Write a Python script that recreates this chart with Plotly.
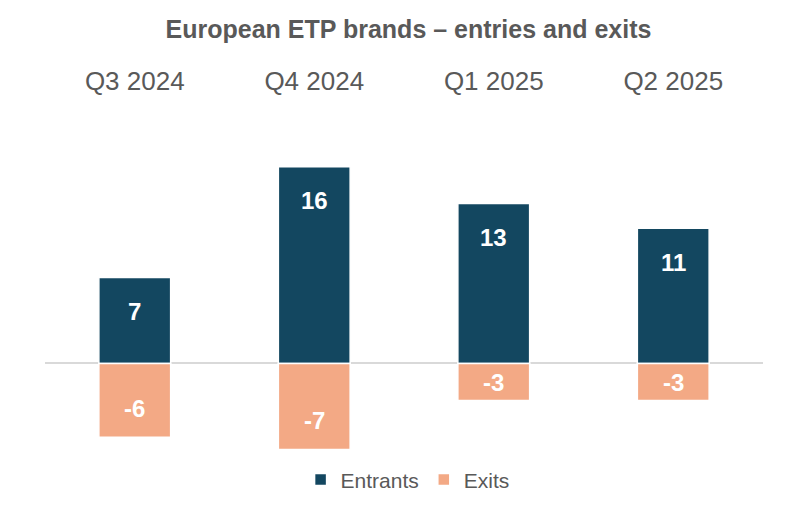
import plotly.graph_objects as go

categories = ["Q3 2024", "Q4 2024", "Q1 2025", "Q2 2025"]
entrants = [7, 16, 13, 11]
exits = [-6, -7, -3, -3]

DARK = "#134760"
SALMON = "#F3A985"
GREY = "#595959"
FONT = "Liberation Sans, Arial, sans-serif"

fig = go.Figure()
fig.add_trace(go.Bar(x=categories, y=entrants, name="Entrants",
                     marker=dict(color=DARK, line=dict(color="white", width=1.5))))
fig.add_trace(go.Bar(x=categories, y=exits, name="Exits",
                     marker=dict(color=SALMON, line=dict(color="white", width=1.5))))

annotations = []
for c, v in zip(categories, entrants):
    annotations.append(dict(x=c, y=v, xref="x", yref="y", text=f"<b>{v}</b>",
                            showarrow=False, yshift=-34, yanchor="middle",
                            font=dict(family=FONT, size=24, color="white")))
for c, v in zip(categories, exits):
    if abs(v) >= 5:
        annotations.append(dict(x=c, y=v, xref="x", yref="y", text=f"<b>{v}</b>",
                                showarrow=False, yshift=29, yanchor="middle",
                                font=dict(family=FONT, size=24, color="white")))
    else:
        annotations.append(dict(x=c, y=v / 2, xref="x", yref="y", text=f"<b>{v}</b>",
                                showarrow=False, yshift=-1, yanchor="middle",
                                font=dict(family=FONT, size=24, color="white")))

fig.update_layout(
    width=801, height=520,
    margin=dict(l=37, r=46, t=92, b=73),
    paper_bgcolor="white", plot_bgcolor="white",
    barmode="relative", bargap=0.6,
    title=dict(text="<b>European ETP brands – entries and exits</b>",
               x=0.5, xanchor="center", y=0.96, yanchor="middle",
               font=dict(family=FONT, size=25, color=GREY)),
    font=dict(family=FONT, color=GREY),
    xaxis=dict(side="top", showgrid=False, showline=False, ticks="",
               tickfont=dict(family=FONT, size=26, color=GREY),
               ticklabelstandoff=4),
    yaxis=dict(range=[-7.44, 21.42], showgrid=False, showticklabels=False,
               zeroline=True, zerolinecolor="#D9D9D9", zerolinewidth=1.5,
               fixedrange=True),
    legend=dict(orientation="h", x=0.505, xanchor="center", y=-0.07, yanchor="middle",
                font=dict(family=FONT, size=21, color=GREY),
                itemclick=False, itemwidth=30, tracegroupgap=0),
    annotations=annotations,
    showlegend=True,
)

fig.write_html("out.html")
